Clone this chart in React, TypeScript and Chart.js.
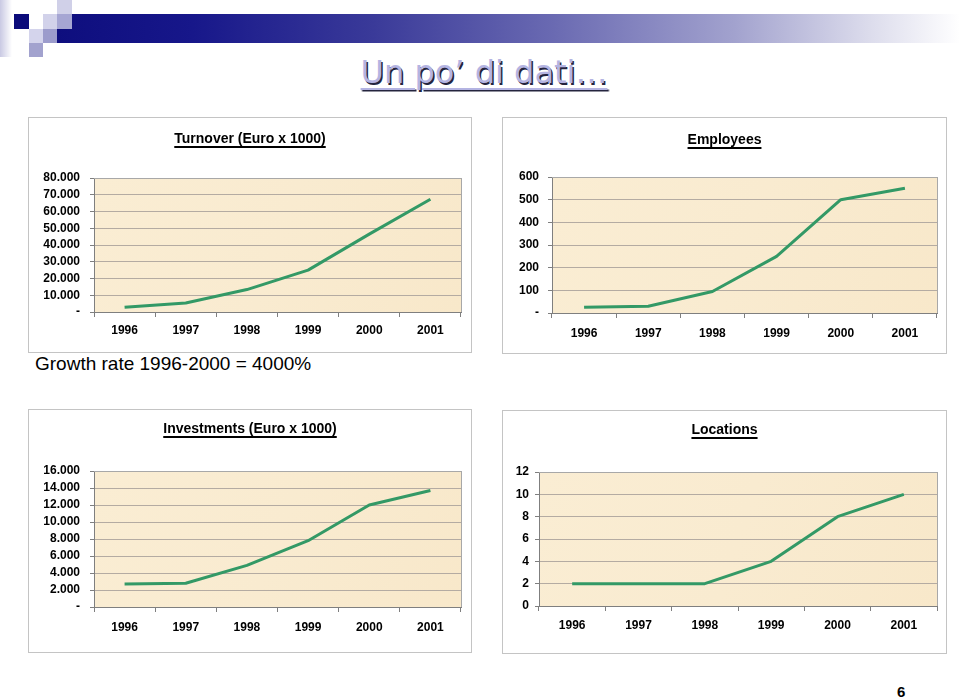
import React, { useEffect, useRef } from "react";
import { Chart, registerables } from "chart.js";

Chart.register(...registerables);

// ---------------- DATA ----------------
const years = ["1996", "1997", "1998", "1999", "2000", "2001"];

const turnoverValues = [2800, 5400, 13400, 25000, 46500, 67300];
const turnoverTicks = ["-", "10.000", "20.000", "30.000", "40.000", "50.000", "60.000", "70.000", "80.000"];

const employeesValues = [25, 30, 95, 250, 500, 550];
const employeesTicks = ["-", "100", "200", "300", "400", "500", "600"];

const investmentsValues = [2700, 2800, 4900, 7800, 12000, 13700];
const investmentsTicks = ["-", "2.000", "4.000", "6.000", "8.000", "10.000", "12.000", "14.000", "16.000"];

const locationsValues = [2, 2, 2, 4, 8, 10];
const locationsTicks = ["0", "2", "4", "6", "8", "10", "12"];

// ---------------- STYLE ----------------
const LINE_COLOR = "#339966";
const GRID_COLOR = "#B4ABA2";
const AXIS_COLOR = "#7F7F7F";
const FONT_FAMILY = '"Liberation Sans", Arial, sans-serif';

type Rect = { x: number; y: number; w: number; h: number };
type Plot = { l: number; t: number; r: number; b: number };

type PanelProps = {
  box: Rect;
  plot: Plot;
  title: string;
  titleY: number;
  values: number[];
  tickLabels: string[];
  max: number;
  step: number;
  yLabelRight: number;
  xLabelCy: number;
};

const plotDecor = {
  id: "plotDecor",
  beforeDraw(chart: any) {
    const { ctx, chartArea } = chart;
    if (!chartArea) return;
    const { left, top, right, bottom } = chartArea;
    ctx.save();
    const g = ctx.createLinearGradient(left, top, right, bottom);
    g.addColorStop(0, "#FAEDD3");
    g.addColorStop(0.5, "#F9EBD0");
    g.addColorStop(1, "#F8E8CA");
    ctx.fillStyle = g;
    ctx.fillRect(left, top, right - left, bottom - top);
    ctx.restore();
  },
  afterDraw(chart: any) {
    const { ctx, chartArea } = chart;
    if (!chartArea) return;
    const { left, top, right, bottom } = chartArea;
    ctx.save();
    ctx.strokeStyle = "#A8A8A8";
    ctx.lineWidth = 1;
    ctx.beginPath();
    ctx.moveTo(Math.round(right) + 0.5, top);
    ctx.lineTo(Math.round(right) + 0.5, bottom);
    ctx.moveTo(left, Math.round(top) + 0.5);
    ctx.lineTo(right, Math.round(top) + 0.5);
    ctx.stroke();
    ctx.restore();
  },
};

const underlinedTitle = {
  id: "underlinedTitle",
  afterDraw(chart: any, _args: any, opts: any) {
    const { ctx } = chart;
    const text: string = opts.text;
    if (!text) return;
    ctx.save();
    ctx.font = `bold 14px ${FONT_FAMILY}`;
    ctx.fillStyle = "#000";
    ctx.textAlign = "center";
    ctx.textBaseline = "middle";
    ctx.fillText(text, opts.x, opts.y);
    const w = ctx.measureText(text).width;
    ctx.fillRect(opts.x - w / 2, opts.y + 7, w, 2);
    ctx.restore();
  },
};

function Panel(p: PanelProps) {
  const ref = useRef<HTMLCanvasElement | null>(null);

  useEffect(() => {
    if (!ref.current) return;
    const { box, plot } = p;
    const yWidth = plot.l - box.x;
    const xHeight = box.y + box.h - plot.b;
    const yTickLen = 4;
    const xTickLen = 5;
    const chart = new Chart(ref.current, {
      type: "line",
      data: {
        labels: years,
        datasets: [
          {
            data: p.values,
            borderColor: LINE_COLOR,
            borderWidth: 3,
            pointRadius: 0,
            pointHoverRadius: 0,
            tension: 0,
            fill: false,
            borderJoinStyle: "round",
            borderCapStyle: "butt",
          },
        ],
      },
      options: {
        animation: false,
        responsive: false,
        maintainAspectRatio: false,
        layout: {
          padding: {
            top: plot.t - box.y,
            right: box.x + box.w - plot.r,
            left: 0,
            bottom: 0,
          },
        },
        plugins: {
          legend: { display: false },
          title: { display: false },
          tooltip: { enabled: false },
          underlinedTitle: { text: p.title, x: box.w / 2, y: p.titleY - box.y },
        } as any,
        scales: {
          x: {
            type: "category",
            offset: true,
            grid: {
              offset: true,
              drawOnChartArea: false,
              drawTicks: true,
              tickLength: xTickLen,
              color: AXIS_COLOR,
            },
            border: { display: true, color: AXIS_COLOR, width: 1 },
            ticks: {
              color: "#000",
              font: { family: FONT_FAMILY, size: 12, weight: "bold" },
              padding: Math.max(0, p.xLabelCy - plot.b - 6.5 - xTickLen),
              maxRotation: 0,
              autoSkip: false,
            },
            afterFit: (s: any) => {
              s.height = xHeight;
            },
          },
          y: {
            min: 0,
            max: p.max,
            grid: {
              color: GRID_COLOR,
              tickColor: AXIS_COLOR,
              drawTicks: true,
              tickLength: yTickLen,
            },
            border: { display: true, color: AXIS_COLOR, width: 1 },
            ticks: {
              stepSize: p.step,
              autoSkip: false,
              color: "#000",
              font: { family: FONT_FAMILY, size: 12, weight: "bold", lineHeight: 1 },
              padding: Math.max(0, plot.l - p.yLabelRight - yTickLen),
              callback: (_v: any, i: number) => p.tickLabels[i],
            },
            afterFit: (s: any) => {
              s.width = yWidth;
            },
          },
        },
      },
      plugins: [plotDecor, underlinedTitle],
    });
    return () => chart.destroy();
  }, []);

  const { box } = p;
  return (
    <>
      <div
        style={{
          position: "absolute",
          left: box.x,
          top: box.y,
          width: box.w,
          height: box.h,
          border: "1px solid #C4C4C4",
          boxSizing: "border-box",
          background: "#fff",
        }}
      />
      <canvas
        ref={ref}
        width={box.w}
        height={box.h}
        style={{ position: "absolute", left: box.x, top: box.y, width: box.w, height: box.h }}
      />
    </>
  );
}

function Sq({ x, y, w, h, c }: { x: number; y: number; w: number; h: number; c: string }) {
  return <div style={{ position: "absolute", left: x, top: y, width: w, height: h, background: c }} />;
}

export default function App() {
  return (
    <div
      style={{
        position: "absolute",
        left: 0,
        top: 0,
        width: 960,
        height: 699,
        overflow: "hidden",
        background: "#fff",
        fontFamily: FONT_FAMILY,
      }}
    >
      {/* header decoration */}
      <div
        style={{
          position: "absolute",
          left: 0,
          top: 0,
          width: 12,
          height: 57,
          background: "linear-gradient(to right, #C9C9E3, #FFFFFF)",
        }}
      />
      <div
        style={{
          position: "absolute",
          left: 57,
          top: 14,
          width: 903,
          height: 29,
          background:
            "linear-gradient(to right, #0E0E7E 0%, #17178A 15%, #3A3A99 35%, #6A6AB2 55%, #A2A2CE 75%, #DCDCEC 90%, #FFFFFF 100%)",
        }}
      />
      <Sq x={14} y={14} w={15} h={15} c="#0B0B7A" />
      <Sq x={43} y={14} w={14} h={15} c="#D2D2EA" />
      <Sq x={57} y={0} w={15} h={14} c="#D0D0E8" />
      <Sq x={57} y={14} w={15} h={15} c="#A6A6D3" />
      <Sq x={29} y={29} w={14} h={14} c="#D4D4EC" />
      <Sq x={43} y={29} w={14} h={14} c="#9C9CCC" />
      <Sq x={29} y={43} w={14} h={14} c="#A2A2CE" />

      {/* slide title */}
      <div
        style={{
          position: "absolute",
          left: 4,
          top: 56,
          width: 960,
          textAlign: "center",
          fontFamily: '"DejaVu Sans", Verdana, sans-serif',
          fontSize: 32,
          lineHeight: "32px",
          color: "#B4B4E2",
          textDecoration: "underline",
          textDecorationThickness: 2,
          textUnderlineOffset: 5,
          textShadow: "1.5px 1.5px 0 #24243E",
          whiteSpace: "nowrap",
        }}
      >
        Un po’ di dati…
      </div>

      <Panel
        box={{ x: 28, y: 117, w: 444, h: 236 }}
        plot={{ l: 94, t: 178, r: 461, b: 312 }}
        title="Turnover (Euro x 1000)"
        titleY={139}
        values={turnoverValues}
        tickLabels={turnoverTicks}
        max={80000}
        step={10000}
        yLabelRight={80}
        xLabelCy={330}
      />
      <Panel
        box={{ x: 502, y: 117, w: 445, h: 237 }}
        plot={{ l: 552, t: 177, r: 937, b: 313 }}
        title="Employees"
        titleY={140}
        values={employeesValues}
        tickLabels={employeesTicks}
        max={600}
        step={100}
        yLabelRight={539}
        xLabelCy={333}
      />

      <div
        style={{
          position: "absolute",
          left: 35,
          top: 354,
          fontSize: 19,
          lineHeight: "19px",
          color: "#000",
          whiteSpace: "nowrap",
        }}
      >
        Growth rate 1996-2000 = 4000%
      </div>

      <Panel
        box={{ x: 28, y: 409, w: 444, h: 244 }}
        plot={{ l: 94, t: 471, r: 461, b: 607 }}
        title="Investments (Euro x 1000)"
        titleY={429}
        values={investmentsValues}
        tickLabels={investmentsTicks}
        max={16000}
        step={2000}
        yLabelRight={80}
        xLabelCy={627}
      />
      <Panel
        box={{ x: 502, y: 410, w: 445, h: 244 }}
        plot={{ l: 539, t: 472, r: 937, b: 606 }}
        title="Locations"
        titleY={430}
        values={locationsValues}
        tickLabels={locationsTicks}
        max={12}
        step={2}
        yLabelRight={529}
        xLabelCy={625}
      />

      <div
        style={{
          position: "absolute",
          left: 897,
          top: 684,
          fontSize: 15,
          lineHeight: "15px",
          fontWeight: "bold",
          color: "#000",
        }}
      >
        6
      </div>
    </div>
  );
}
